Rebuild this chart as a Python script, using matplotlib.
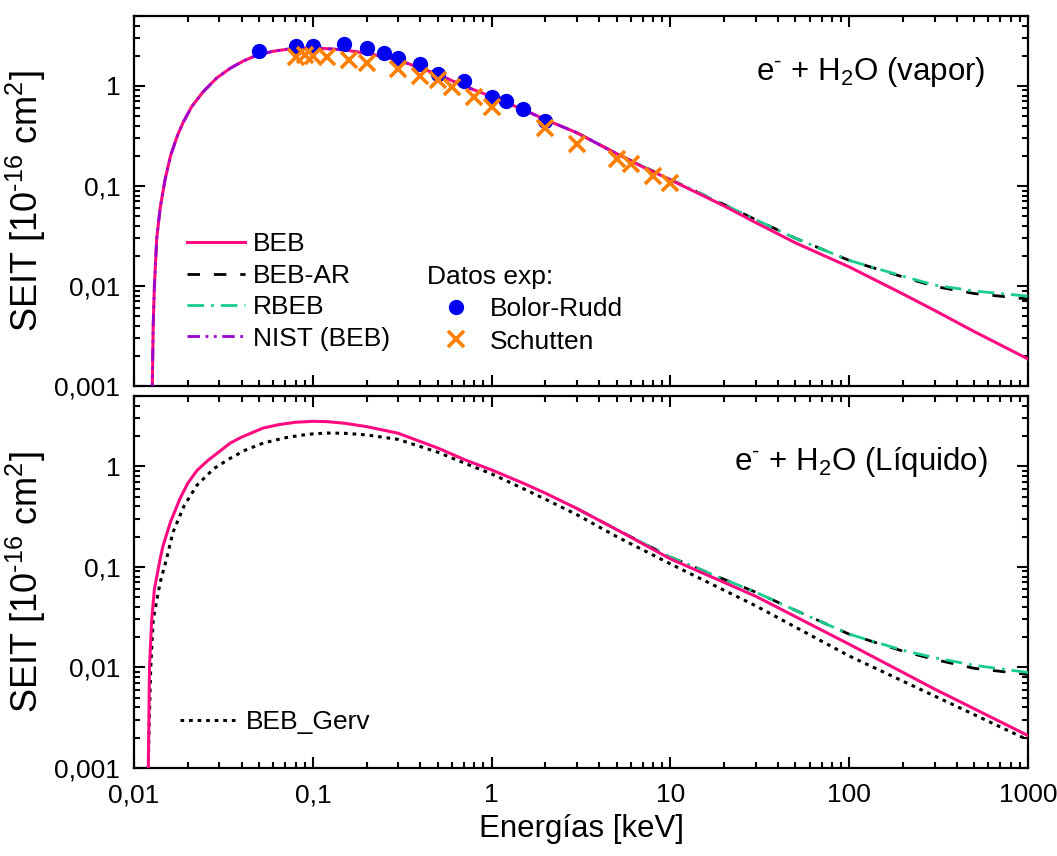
import matplotlib
matplotlib.use("Agg")
import matplotlib.pyplot as plt
from matplotlib.ticker import FuncFormatter, LogLocator, NullFormatter

plt.rcParams['font.family'] = ['Liberation Sans', 'DejaVu Sans']
plt.rcParams['mathtext.fontset'] = 'custom'
plt.rcParams['mathtext.rm'] = 'Liberation Sans'
plt.rcParams['mathtext.it'] = 'Liberation Sans:italic'

# ---- datos: vapor ----
e_beb = [0.01262, 0.01265, 0.0128, 0.0130, 0.0134, 0.014, 0.0149, 0.016, 0.0175, 0.0188,
         0.021, 0.0243, 0.029, 0.0345, 0.041, 0.049, 0.06, 0.075, 0.09, 0.11, 0.15, 0.2,
         0.3, 0.5, 0.7, 1.0, 1.5, 2.0, 3.0, 5.0, 7.0, 10, 20, 30, 50, 100, 200, 300, 500, 1000]
s_beb = [0.0008, 0.001, 0.004, 0.01, 0.03, 0.06, 0.115, 0.2, 0.32, 0.43,
         0.62, 0.87, 1.2, 1.5, 1.78, 2.04, 2.22, 2.35, 2.39, 2.38, 2.29, 2.12,
         1.82, 1.3, 1.0, 0.78, 0.58, 0.46, 0.34, 0.21, 0.155, 0.115, 0.063, 0.043, 0.027, 0.0155, 0.0083, 0.0057, 0.0035, 0.00186]

e_nist = e_beb[:30]
s_nist = s_beb[:30]

e_rel = [3.0, 5.0, 10, 20, 30, 50, 100, 200, 300, 500, 1000]
s_rbeb = [0.34, 0.21, 0.116, 0.065, 0.046, 0.030, 0.018, 0.0125, 0.0102, 0.0089, 0.0079]
s_ar = [0.34, 0.21, 0.116, 0.065, 0.046, 0.030, 0.018, 0.0123, 0.0099, 0.0084, 0.0074]

e_bolor = [0.05, 0.08, 0.1, 0.15, 0.2, 0.25, 0.3, 0.4, 0.5, 0.7, 1.0, 1.2, 1.5, 2.0]
s_bolor = [2.25, 2.53, 2.53, 2.63, 2.42, 2.12, 1.92, 1.65, 1.32, 1.11, 0.78, 0.71, 0.585, 0.45]

e_schutten = [0.08, 0.09, 0.1, 0.12, 0.16, 0.2, 0.3, 0.4, 0.5, 0.6, 0.8, 1.0, 2.0, 3.0, 5.0, 6.0, 8.0, 10]
s_schutten = [1.96, 2.04, 2.0, 1.94, 1.82, 1.71, 1.47, 1.26, 1.15, 0.97, 0.78, 0.62, 0.38, 0.26, 0.185, 0.165, 0.126, 0.106]

# ---- datos: liquido ----
e_liq = [0.0120, 0.0121, 0.0122, 0.01256, 0.0130, 0.014, 0.0145, 0.016, 0.0181, 0.020,
         0.0225, 0.026, 0.030, 0.0345, 0.040, 0.0527, 0.065, 0.08, 0.1, 0.12, 0.15, 0.2,
         0.3, 0.5, 0.7, 1.0, 1.5, 2.0, 3.0, 5.0, 10, 30, 100, 300, 1000]
s_liq = [0.0008, 0.0026, 0.01, 0.03, 0.06, 0.12, 0.16, 0.28, 0.48, 0.68,
         0.91, 1.15, 1.4, 1.7, 1.95, 2.4, 2.6, 2.74, 2.8, 2.78, 2.68, 2.48,
         2.13, 1.52, 1.17, 0.92, 0.68, 0.54, 0.38, 0.235, 0.12, 0.051, 0.017, 0.0061, 0.0021]

e_gerv = [0.0120, 0.0121, 0.0124, 0.0128, 0.014, 0.0152, 0.0165, 0.019, 0.0225, 0.028,
          0.0345, 0.042, 0.0527, 0.07, 0.085, 0.1, 0.12, 0.15, 0.2, 0.3, 0.5, 0.7, 1.0,
          1.5, 2.0, 3.0, 5.0, 10, 30, 100, 300, 1000]
s_gerv = [0.0008, 0.002, 0.01, 0.03, 0.07, 0.12, 0.22, 0.4, 0.65, 0.95,
          1.2, 1.45, 1.7, 1.92, 2.03, 2.1, 2.14, 2.13, 2.05, 1.85, 1.38, 1.08, 0.84,
          0.6, 0.47, 0.33, 0.2, 0.107, 0.041, 0.013, 0.0052, 0.0019]

e_rel_liq = [3.0, 5.0, 10, 20, 30, 50, 100, 200, 300, 500, 1000]
s_rbeb_liq = [0.38, 0.235, 0.125, 0.075, 0.056, 0.037, 0.0214, 0.0148, 0.0125, 0.0105, 0.0089]
s_ar_liq = [0.38, 0.235, 0.125, 0.075, 0.056, 0.037, 0.0214, 0.0145, 0.012, 0.0098, 0.0085]

c_beb = '#FF0A80'
c_rbeb = '#1ACC8C'
c_nist = '#9A00CC'

fig = plt.figure(figsize=(10.57, 8.56), dpi=100)
ax1 = fig.add_axes([0.1268, 0.5491, 0.8458, 0.4322])
ax2 = fig.add_axes([0.1268, 0.1028, 0.8458, 0.4346])

fmt = FuncFormatter(lambda v, p: f"{v:g}".replace('.', ','))

for ax in (ax1, ax2):
    ax.set_xscale('log')
    ax.set_yscale('log')
    ax.set_xlim(0.01, 1000)
    ax.set_ylim(0.001, 5)
    ax.xaxis.set_major_locator(LogLocator(base=10, numticks=10))
    ax.yaxis.set_major_locator(LogLocator(base=10, numticks=10))
    ax.xaxis.set_minor_locator(LogLocator(base=10, subs=range(2, 10), numticks=20))
    ax.yaxis.set_minor_locator(LogLocator(base=10, subs=range(2, 10), numticks=20))
    ax.xaxis.set_major_formatter(fmt)
    ax.yaxis.set_major_formatter(fmt)
    ax.xaxis.set_minor_formatter(NullFormatter())
    ax.yaxis.set_minor_formatter(NullFormatter())
    ax.tick_params(which='both', direction='in', top=True, right=True, labelsize=19, width=1.5)
    ax.tick_params(which='major', length=8)
    ax.tick_params(axis='x', which='major', pad=11)
    ax.tick_params(axis='y', which='major', pad=10)
    ax.tick_params(which='minor', length=4)
    for s in ax.spines.values():
        s.set_linewidth(1.6)
    ax.set_ylabel('SEIT [10$^{\\mathregular{\\text{-}16}}$ cm$^{\\mathregular{2}}$]', fontsize=26)
    ax.yaxis.set_label_coords(-0.096, 0.5)

ax1.tick_params(labelbottom=False)

# GRAFICO SUPERIOR (vapor)
l_ar, = ax1.plot(e_rel, s_ar, color='black', lw=2, dashes=(4.5, 5), zorder=2)
l_rb, = ax1.plot(e_rel, s_rbeb, color=c_rbeb, lw=2, dashes=(6, 2.5, 1, 2.5), zorder=3)
l_beb, = ax1.plot(e_beb, s_beb, color=c_beb, lw=2.2, zorder=4)
l_ni, = ax1.plot(e_nist, s_nist, color=c_nist, lw=2, dashes=(4.5, 2, 1, 2, 1, 2), zorder=5)
p_bo, = ax1.plot(e_bolor, s_bolor, 'o', color='#0000F0', ms=10, ls='none', zorder=6)
p_sc, = ax1.plot(e_schutten, s_schutten, 'x', color='#FF8000', ms=11, mew=2.6, ls='none', zorder=7)

leg1 = ax1.legend([l_beb, l_ar, l_rb, l_ni], ['BEB', 'BEB-AR', 'RBEB', 'NIST (BEB)'],
                  loc='upper left', bbox_to_anchor=(0.059, 0.415), frameon=False, fontsize=19,
                  handlelength=2.2, handletextpad=0.3, labelspacing=0.28,
                  borderpad=0, borderaxespad=0)
ax1.add_artist(leg1)
ax1.legend([p_bo, p_sc], ['Bolor-Rudd', 'Schutten'], title='Datos exp:', title_fontsize=19,
           loc='upper left', bbox_to_anchor=(0.328, 0.328), frameon=False, fontsize=19,
           handlelength=2.15, handletextpad=0.22, labelspacing=0.32, numpoints=1,
           borderpad=0, borderaxespad=0, alignment='left')

ax1.text(0.952, 0.849, 'e$^{\\mathregular{\\text{-}}}$ + H$_{\\mathregular{2}}$O (vapor)', transform=ax1.transAxes,
         ha='right', va='center', fontsize=22.5)

# GRAFICO INFERIOR (liquido)
ax2.plot(e_rel_liq, s_ar_liq, color='black', lw=2, dashes=(4.5, 5), zorder=2)
ax2.plot(e_rel_liq, s_rbeb_liq, color=c_rbeb, lw=2, dashes=(6, 2.5, 1, 2.5), zorder=3)
l_gv, = ax2.plot(e_gerv, s_gerv, color='black', lw=2.2, dashes=(1.2, 1.6), zorder=3)
ax2.plot(e_liq, s_liq, color=c_beb, lw=2.2, zorder=4)

ax2.legend([l_gv], ['BEB_Gerv'], loc='upper left', bbox_to_anchor=(0.051, 0.155), frameon=False,
           fontsize=19, handlelength=2.25, handletextpad=0.27, borderpad=0, borderaxespad=0)

ax2.text(0.955, 0.823, 'e$^{\\mathregular{\\text{-}}}$ + H$_{\\mathregular{2}}$O (Líquido)', transform=ax2.transAxes,
         ha='right', va='center', fontsize=22.5)

ax2.set_xlabel('Energías [keV]', fontsize=22.5, labelpad=5)

fig.savefig('out.png', dpi=100)
